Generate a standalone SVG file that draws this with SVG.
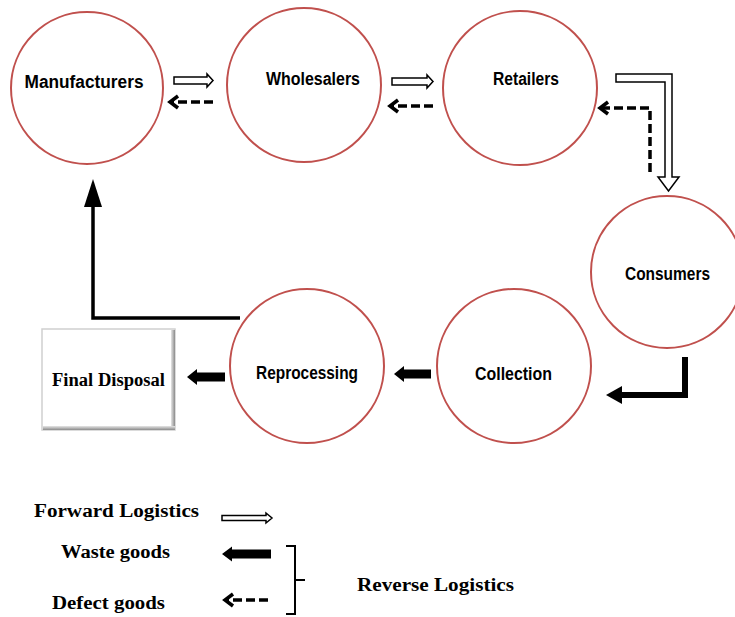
<svg xmlns="http://www.w3.org/2000/svg" width="735" height="617" viewBox="0 0 735 617">
<style>
.node circle{fill:#fff;stroke:#c0504d;stroke-width:2}
.lbl{font-family:"Liberation Sans",Arial,sans-serif;font-weight:bold;font-size:17.5px;fill:#000;text-anchor:middle}
.ser{font-family:"Liberation Serif","Times New Roman",serif;font-weight:bold;font-size:18px;fill:#000}
.fwd{fill:#fff;stroke:#000;stroke-width:1.5;stroke-linejoin:miter}
.def{fill:none;stroke:#000;stroke-width:3.5;stroke-dasharray:9 4}
.waste{fill:#000}
.thick{fill:none;stroke:#000;stroke-linejoin:miter}
</style>
<defs>
<marker id="chev" markerUnits="userSpaceOnUse" markerWidth="16" markerHeight="16" viewBox="-11 -8 16 16" refX="0" refY="0" orient="auto">
<path d="M-8,-6 L0,0 L-8,6" fill="none" stroke="#000" stroke-width="3.5"/>
</marker>
<linearGradient id="gr" x1="0" y1="0" x2="1" y2="0"><stop offset="0" stop-color="#e6e6e6"/><stop offset="1" stop-color="#8a8a8a"/></linearGradient>
<linearGradient id="gb" x1="0" y1="0" x2="0" y2="1"><stop offset="0" stop-color="#e6e6e6"/><stop offset="1" stop-color="#8a8a8a"/></linearGradient>
</defs>

<g id="manufacturers" class="node"><circle cx="87" cy="88" r="76"/><text class="lbl" x="84" y="88" font-size="18" textLength="119" lengthAdjust="spacingAndGlyphs">Manufacturers</text></g>
<g id="wholesalers" class="node"><circle cx="304" cy="85" r="77"/><text class="lbl" x="313" y="85" textLength="94" lengthAdjust="spacingAndGlyphs">Wholesalers</text></g>
<g id="retailers" class="node"><circle cx="520" cy="88" r="77"/><text class="lbl" x="526" y="85" textLength="66" lengthAdjust="spacingAndGlyphs">Retailers</text></g>
<g id="consumers" class="node"><circle cx="667" cy="272" r="76"/><text class="lbl" x="667.5" y="280" textLength="85" lengthAdjust="spacingAndGlyphs">Consumers</text></g>
<g id="collection" class="node"><circle cx="514" cy="366" r="77"/><text class="lbl" x="513.5" y="380" textLength="77" lengthAdjust="spacingAndGlyphs">Collection</text></g>
<g id="reprocessing" class="node"><circle cx="307" cy="366" r="77"/><text class="lbl" x="307" y="379" textLength="102" lengthAdjust="spacingAndGlyphs">Reprocessing</text></g>
<g id="final-disposal">
<rect x="42" y="329" width="133" height="101" fill="#fff" stroke="#cfcfcf" stroke-width="1.5"/>
<rect x="171" y="330" width="4" height="100" fill="url(#gr)"/>
<rect x="43" y="426" width="132" height="4" fill="url(#gb)"/>
<text class="ser" x="52" y="386" textLength="113" lengthAdjust="spacingAndGlyphs">Final Disposal</text>
</g>

<g id="connectors">
<path class="fwd" d="M174,77 L207,77 L207,74 L213,80.5 L207,87 L207,84 L174,84 Z"/>
<path class="fwd" d="M392,78 L427,78 L427,75 L433,81.5 L427,88 L427,85 L392,85 Z"/>
<path class="fwd" d="M616,74 L672,74 L672,177 L679,177 L668.5,191 L658,177 L665,177 L665,82 L616,82 Z"/>
<path class="def" d="M213,102 L170,102" marker-end="url(#chev)"/>
<path class="def" d="M433,106 L390,106" marker-end="url(#chev)"/>
<path class="def" d="M650,172 L650,108 L600,108" marker-end="url(#chev)"/>
<polyline class="thick" stroke-width="6" points="685,357 685,395 620,395"/>
<polygon class="waste" points="606,395 622,386 622,404"/>
<path class="waste" d="M394,374 L404,366 L404,369.5 L431,369.5 L431,378.5 L404,378.5 L404,382 Z"/>
<path class="waste" d="M187,377 L197,369 L197,372.5 L225,372.5 L225,381.5 L197,381.5 L197,385 Z"/>
<polyline class="thick" stroke-width="3.5" points="240,318 93,318 93,205"/>
<polygon class="waste" points="93,179 84,207 102,207"/>
</g>

<g id="legend">
<text class="ser" x="34" y="517" textLength="165" lengthAdjust="spacingAndGlyphs">Forward Logistics</text>
<path class="fwd" d="M222,515.5 L266,515.5 L266,513 L272,518 L266,523 L266,520.5 L222,520.5 Z"/>
<text class="ser" x="61" y="558" textLength="109" lengthAdjust="spacingAndGlyphs">Waste goods</text>
<path class="waste" d="M222,554 L232,546.5 L232,549.5 L271,549.5 L271,558.5 L232,558.5 L232,561.5 Z"/>
<text class="ser" x="52" y="609" textLength="113" lengthAdjust="spacingAndGlyphs">Defect goods</text>
<path class="def" d="M268,600 L225,600" marker-end="url(#chev)"/>
<path d="M286,546 L295,546 L295,614 L286,614 M295,580 L305,580" fill="none" stroke="#000" stroke-width="2"/>
<text class="ser" x="357" y="591" textLength="157" lengthAdjust="spacingAndGlyphs">Reverse Logistics</text>
</g>
</svg>
